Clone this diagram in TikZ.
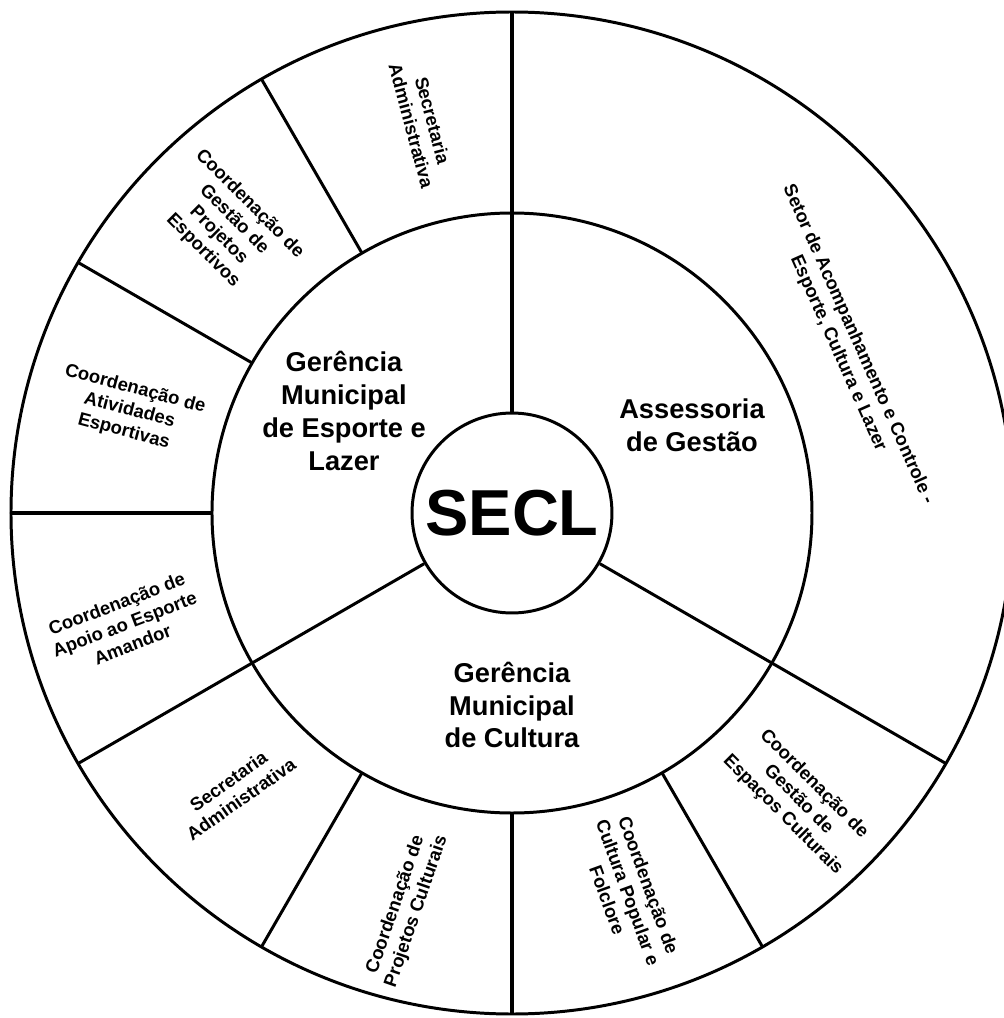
\documentclass[tikz,border=0pt]{standalone}
\usepackage{tikz}
\usetikzlibrary{calc}
\usepackage{fontspec}
\setmainfont{Liberation Sans}
\newcommand{\sz}[2]{\fontsize{#1}{#2}\selectfont}

\begin{document}
\begin{tikzpicture}[x=0.02cm,y=0.02cm,
        fio/.style={line width=1.7pt},
        barra/.style={line width=2.8pt},
        setor/.style={font=\bfseries\sz{10.5}{12.5}, align=center, inner sep=0pt},
        gerencia/.style={font=\bfseries\sz{15.5}{18.7}, align=center}]
        \useasboundingbox (-512,-505) rectangle (492,513);
        \node[circle, draw, fio, minimum size=4cm, inner sep=0pt,
          font=\bfseries\sz{37}{40}] (secl) at (0,0) {SECL};
        \draw[fio] (secl.center) circle (300);
        \draw[fio] (secl.center) circle (501);
        \draw[barra] (secl.90) -- (90:501);
        \draw[fio] (secl.210) -- (210:501);
        \draw[fio] (secl.330) -- (330:501);
        \draw[barra] (180:300) -- (180:501);
        \draw[barra] (270:300) -- (270:501);
        \foreach \a in {120,150,240,300}
          \draw[fio] (\a:300) -- (\a:501);
        \node[gerencia] (esporte) at (-168,102) {Gerência\\Municipal\\de Esporte e\\Lazer};
        \node[gerencia] (assessoria) at (180,88) {Assessoria\\de Gestão};
        \node[gerencia] (cultura) at (0,-192) {Gerência\\Municipal\\de Cultura};
        \node[setor, rotate=-75] (secesp) at (103:400) {Secretaria\\Administrativa};
        \node[setor, rotate=-45] (projesp) at (135:404) {Coordenação de\\Gestão de\\Projetos\\Esportivos};
        \node[setor, rotate=-15] (ativ) at (165:396) {Coordenação de\\Atividades\\Esportivas};
        \node[setor, rotate=21] (apoio) at (196:403) {Coordenação de\\Apoio ao Esporte\\Amandor};
        \node[setor, rotate=35] (seccult) at (225:392) {Secretaria\\Administrativa};
        \node[setor, rotate=71] (projcult) at (255:409) {Coordenação de\\Projetos Culturais};
        \node[setor, rotate=-70] (folclore) at (287:397) {Coordenação de\\Cultura Popular e\\Folclore};
        \node[setor, rotate=-45] (espacos) at (315:405) {Coordenação de\\Gestão de\\Espaços Culturais};
        \node[setor, rotate=-66] (acomp) at (26:374) {Setor de Acompanhamento e Controle -\\Esporte, Cultura e Lazer};
\end{tikzpicture}
\end{document}
